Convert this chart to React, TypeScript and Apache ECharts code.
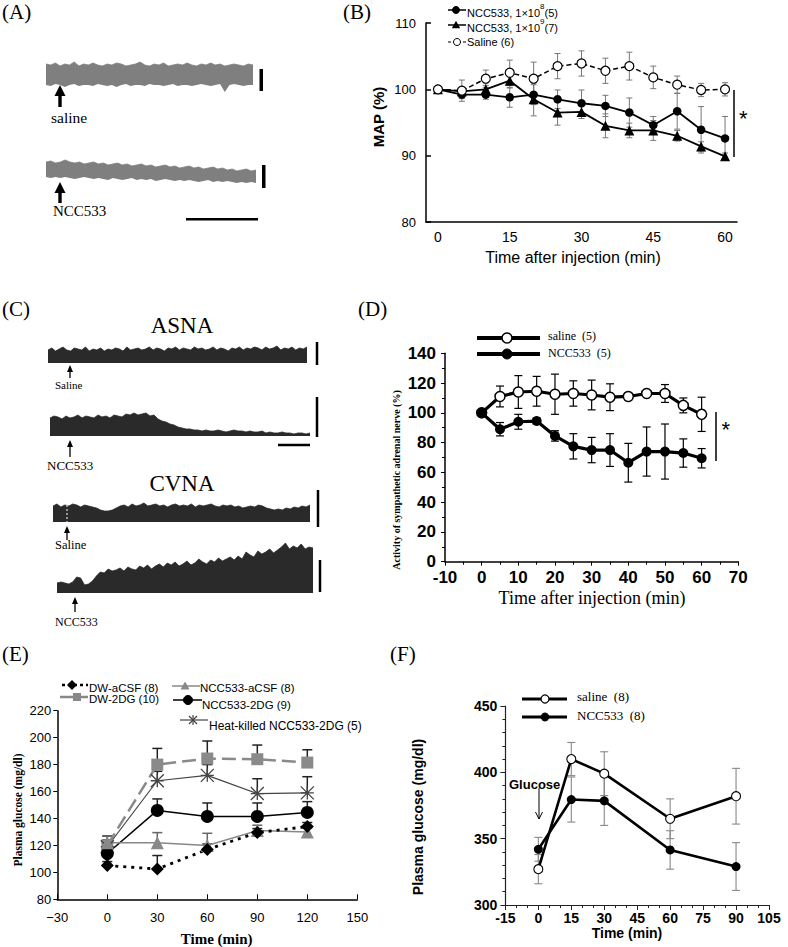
import React, { useEffect, useRef } from 'react';
import * as echarts from 'echarts';

const SANS = '"Liberation Sans", Arial, Helvetica, sans-serif';
const SERIF = '"Liberation Serif", "Times New Roman", Times, serif';

// ---------- Panel A : MAP recordings (arbitrary units, envelope of the band) ----------
const aSalineTop = [31,30,32,29,31,30,33,29,31,30, 32,30,29,31,30,32,31,29,30,31, 33,30,29,31,30,32,29,30,31,30, 32,30,29,31,30,32,30,31,29,30, 31,30,29,31,30];
const aSalineBottom = [10,9,11,10,8,10,11,9,10,10, 9,11,10,9,10,8,10,11,9,10, 10,9,11,10,10,9,10,11,9,10, 10,9,10,11,10,9,10,11,3,10, 11,10,9,10,10];
const aNccTop = [28,29,27,28,30,28,27,28,26,27, 28,26,27,25,26,27,25,26,24,25, 26,24,25,23,24,25,23,24,22,23, 24,22,23,21,22,23,21,22,20,21, 19,20,21,19,20];
const aNccBottom = [13,12,13,12,13,12,11,12,13,12, 11,12,11,10,12,11,10,11,12,10, 11,10,11,9,10,11,10,9,10,9, 10,9,8,9,10,8,9,8,9,8, 7,8,7,8,7];

// ---------- Panel C : nerve activity recordings (arbitrary units) ----------
const cAsnaSaline = [13,15,12,14,16,13,12,15,14,13, 16,12,14,13,15,12,14,13,15,14, 12,16,13,14,15,13,14,16,13,15, 14,12,15,14,16,13,15,14,13,16, 14,15,13,14,16,13,15,14,12,15, 14,16,13,15,14,16,15,13,16,14, 15,17,13,15,14,16,13,15,14,16];
const cAsnaNcc = [18,20,19,17,20,18,19,21,18,20, 19,18,21,19,20,18,21,20,19,22, 21,23,21,22,23,20,21,17,15,14, 12,11,9,8,7,7,6,6,5,6, 5,5,6,5,4,5,6,5,5,4, 5,4,4,5,3,4,3,3,4,3, 3,2,3,3,2,3];
const cCvnaSaline = [16,18,15,17,16,18,17,15,17,16, 15,14,12,11,11,12,14,16,17,15, 18,16,17,19,16,17,18,16,17,15, 17,18,16,17,16,18,15,17,16,17, 18,16,15,17,16,17,15,16,14,15, 16,15,17,16,14,13,12,13,12,14, 13,15,14,16,15,17];
const cCvnaNcc = [10,11,10,9,11,16,15,8,9,12, 17,21,20,24,22,23,25,22,26,24, 23,27,25,28,24,27,29,26,30,28, 31,27,29,32,28,30,34,31,29,33, 31,35,32,34,36,33,37,34,41,38, 36,42,39,41,44,40,43,46,50,44, 47,45,49,44,46,45];

// ---------- Panel B : MAP (%) ----------
const bTimes = ['0','5','10','15','20','25','30','35','40','45','50','55','60'];
const bN8 = [100, 99.2, 99.2, 98.8, 99.2, 98.5, 97.9, 97.5, 96.5, 94.6, 96.7, 93.9, 92.6];
const bN8Err = [0, 0.6, 0.7, 1.5, 1.5, 1.4, 2.0, 1.6, 2.2, 1.3, 2.7, 3.5, 3.3];
const bN9 = [100, 99.7, 100, 101.3, 98.5, 96.5, 96.6, 94.5, 93.8, 93.8, 93.0, 91.4, 89.9];
const bN9Err = [0, 0.5, 0.6, 1.1, 2.5, 1.9, 1.0, 1.8, 1.1, 1.5, 0.8, 0.7, 0.5];
const bSaline = [100, 99.8, 101.6, 102.5, 101.6, 103.5, 103.9, 102.8, 103.5, 101.8, 100.7, 99.9, 100.0];
const bSalineErr = [0, 1.6, 1.3, 1.9, 2.5, 1.9, 1.9, 1.9, 2.1, 1.7, 1.3, 1.0, 1.0];

// ---------- Panel D : adrenal sympathetic nerve activity (%) ----------
const dTimes = [0, 5, 10, 15, 20, 25, 30, 35, 40, 45, 50, 55, 60];
const dSaline = [100, 111, 114, 114.5, 112.5, 113, 112, 110.5, 111, 113, 113, 105, 99];
const dSalineErr = [0, 7, 11, 10, 13.5, 8.5, 10, 9, 2.5, 1, 6, 5, 11.5];
const dNcc = [100, 89, 94, 94.5, 84.5, 77.5, 75, 75, 66.5, 74, 74, 73, 69.5];
const dNccErr = [0, 4.5, 5, 2, 3.5, 8.5, 8.5, 11, 13, 16.5, 18.5, 9.5, 6.5];

// ---------- Panel E : plasma glucose (mg/dl) ----------
const eTimes = [0, 30, 60, 90, 120];
const eDwAcsf = [105, 102.5, 117, 129.5, 134];
const eDwAcsfErr = [3, 10, 4, 3, 3];
const eNccAcsf = [122, 122, 120, 131, 130];
const eNccAcsfErr = [5, 7.5, 9, 4, 3];
const eDw2dg = [120, 180, 184.5, 184, 181.5];
const eDw2dgErr = [7, 12, 13, 10.5, 9.5];
const eNcc2dg = [114, 146, 141.5, 141.5, 144.5];
const eNcc2dgErr = [6, 8.5, 10, 10, 8];
const eHeat = [119, 168, 172, 158.5, 159];
const eHeatErr = [5, 7, 8, 11, 12];

// ---------- Panel F : plasma glucose (mg/dl) ----------
const fTimes = [0, 15, 30, 60, 90];
const fSaline = [327, 410, 399, 365, 382];
const fSalineErr = [11, 12.5, 16.5, 15, 21];
const fNcc = [342, 379.5, 378.5, 341.5, 329];
const fNccErr = [9, 17, 18.5, 14.5, 18];

// ---------- helpers ----------
const errBar = (color: string, width: number, cap: number, both: boolean) => (params: any, api: any) => {
  const x = api.value(0);
  const a = api.coord([x, api.value(1)]);
  const b = api.coord([x, api.value(2)]);
  const style = { stroke: color, lineWidth: width, fill: 'none' };
  const children: any[] = [
    { type: 'line', shape: { x1: a[0], y1: a[1], x2: b[0], y2: b[1] }, style },
    { type: 'line', shape: { x1: b[0] - cap, y1: b[1], x2: b[0] + cap, y2: b[1] }, style },
  ];
  if (both) children.push({ type: 'line', shape: { x1: a[0] - cap, y1: a[1], x2: a[0] + cap, y2: a[1] }, style });
  return { type: 'group', children };
};

const symErr = (xs: any[], m: number[], e: number[]) => m.map((v, i) => [xs[i], v - e[i], v + e[i]]);
const upErr = (xs: any[], m: number[], e: number[]) => m.map((v, i) => [xs[i], v, v + e[i]]);
const pairs = (xs: number[], m: number[]) => m.map((v, i) => [xs[i], v]);

const L = (x1: number, y1: number, x2: number, y2: number, w = 1, c = '#000', dash?: number[]) => ({
  type: 'line', shape: { x1, y1, x2, y2 }, style: { stroke: c, lineWidth: w, lineDash: dash }, z: 10, silent: true,
});
const T = (x: number, y: number, text: string, size: number, family: string, extra: any = {}, rot = 0) => ({
  type: 'text', x, y, rotation: rot, silent: true, z: 10,
  style: { text, fontSize: size, fontFamily: family, fill: '#000', align: 'left', verticalAlign: 'middle', ...extra },
});
const C = (cx: number, cy: number, r: number, fill: string, stroke = '#000', lw = 1) => ({
  type: 'circle', shape: { cx, cy, r }, style: { fill, stroke, lineWidth: lw }, z: 11, silent: true,
});
const P = (points: number[][], fill: string) => ({ type: 'polygon', shape: { points }, style: { fill }, z: 11, silent: true });
const R = (x: number, y: number, width: number, height: number, fill = '#000') => ({
  type: 'rect', shape: { x, y, width, height }, style: { fill }, z: 10, silent: true,
});
const thinArrowUp = (x: number, tip: number, tail: number) => [
  L(x, tip + 5, x, tail, 1.3),
  P([[x, tip], [x - 3, tip + 7], [x + 3, tip + 7]], '#000'),
];

const traceLayouts = [
  { left: 46, top: 55, width: 207, height: 40, max: 40 },
  { left: 46, top: 150, width: 210, height: 40, max: 40 },
  { left: 48, top: 340, width: 259, height: 23, max: 23 },
  { left: 50, top: 406, width: 260, height: 30, max: 30 },
  { left: 53, top: 495, width: 257, height: 27, max: 27 },
  { left: 57, top: 540, width: 256, height: 53, max: 53 },
];
const traceLens = [aSalineTop.length, aNccTop.length, cAsnaSaline.length, cAsnaNcc.length, cCvnaSaline.length, cCvnaNcc.length];
const idx = (n: number) => Array.from({ length: n }, (_, i) => String(i));

function buildOption(): any {
  const grids: any[] = [
    { left: 426, top: 23, width: 311, height: 199 },
    { left: 445, top: 353.3, width: 293.3, height: 208.4 },
    { left: 57.3, top: 710.7, width: 300, height: 188.6 },
    { left: 505.4, top: 706, width: 263.6, height: 199 },
    ...traceLayouts.map((t) => ({ left: t.left, top: t.top, width: t.width, height: t.height })),
  ].map((g) => ({ ...g, outerBoundsMode: 'none', containLabel: false }));

  const black = { color: '#000', width: 1.5 };
  const xAxes: any[] = [
    {
      gridIndex: 0, type: 'category', data: bTimes, boundaryGap: true,
      axisLine: { onZero: false, lineStyle: black }, axisTick: { inside: true, length: 5, interval: 0, lineStyle: black },
      axisLabel: { interval: 2, color: '#000', fontSize: 14, fontFamily: SANS, margin: 8 }, splitLine: { show: false },
    },
    {
      gridIndex: 1, type: 'value', min: -10, max: 70, interval: 10,
      axisLine: { show: true, onZero: false, lineStyle: black }, axisTick: { show: true, length: 4, lineStyle: { color: '#000' } },
      minorTick: { show: true, splitNumber: 2, length: 3, lineStyle: { color: '#000' } },
      axisLabel: { color: '#000', fontSize: 17, fontWeight: 'bold', fontFamily: SANS, margin: 7 },
      splitLine: { show: false }, minorSplitLine: { show: false },
    },
    {
      gridIndex: 2, type: 'value', min: -30, max: 150, interval: 30,
      axisLine: { show: true, onZero: false, lineStyle: black }, axisTick: { show: true, inside: true, length: 5, lineStyle: { color: '#000' } },
      axisLabel: { color: '#000', fontSize: 13, fontFamily: SANS, margin: 12, formatter: (v: number) => (v < 0 ? '\u2212' + Math.abs(v) : String(v)) },
      splitLine: { show: false },
    },
    {
      gridIndex: 3, type: 'value', min: -15, max: 105, interval: 15,
      axisLine: { show: true, onZero: false, lineStyle: { color: '#222', width: 1.2 } }, axisTick: { show: true, length: 5, lineStyle: { color: '#222' } },
      minorTick: { show: true, splitNumber: 3, length: 3, lineStyle: { color: '#222' } },
      axisLabel: { color: '#000', fontSize: 14, fontWeight: 'bold', fontFamily: SANS, margin: 6 },
      splitLine: { show: false }, minorSplitLine: { show: false },
    },
    ...traceLayouts.map((t, k) => ({ gridIndex: 4 + k, type: 'category', data: idx(traceLens[k]), boundaryGap: false, show: false })),
  ];
  const yAxes: any[] = [
    {
      gridIndex: 0, type: 'value', min: 80, max: 110, interval: 10,
      axisLine: { show: true, onZero: false, lineStyle: black }, axisTick: { show: true, inside: true, length: 5, lineStyle: black },
      axisLabel: { color: '#000', fontSize: 13, fontFamily: SANS, margin: 10 }, splitLine: { show: false },
    },
    {
      gridIndex: 1, type: 'value', min: 0, max: 140, interval: 20,
      axisLine: { show: true, onZero: false, lineStyle: black }, axisTick: { show: true, length: 4, lineStyle: { color: '#000' } },
      minorTick: { show: true, splitNumber: 2, length: 3, lineStyle: { color: '#000' } },
      axisLabel: { color: '#000', fontSize: 17, fontWeight: 'bold', fontFamily: SANS, margin: 9 },
      splitLine: { show: false }, minorSplitLine: { show: false },
    },
    {
      gridIndex: 2, type: 'value', min: 80, max: 220, interval: 20,
      axisLine: { show: true, onZero: false, lineStyle: black }, axisTick: { show: true, length: 4, lineStyle: { color: '#000' } },
      axisLabel: { color: '#000', fontSize: 13, fontFamily: SANS, margin: 6 }, splitLine: { show: false },
    },
    {
      gridIndex: 3, type: 'value', min: 300, max: 450, interval: 50,
      axisLine: { show: true, onZero: false, lineStyle: { color: '#222', width: 1.2 } }, axisTick: { show: true, length: 5, lineStyle: { color: '#222' } },
      minorTick: { show: true, splitNumber: 5, length: 3, lineStyle: { color: '#222' } },
      axisLabel: { color: '#000', fontSize: 14, fontWeight: 'bold', fontFamily: SANS, margin: 8 },
      splitLine: { show: false }, minorSplitLine: { show: false },
    },
    ...traceLayouts.map((t, k) => ({ gridIndex: 4 + k, type: 'value', min: 0, max: t.max, show: false })),
  ];

  const custom = (ax: number, data: any[], render: any) => ({
    type: 'custom', xAxisIndex: ax, yAxisIndex: ax, data, renderItem: render, silent: true, z: 1,
    encode: { x: 0, y: [1, 2] },
  });
  const line = (ax: number, name: string, data: any[], symbol: string, size: number, item: any, lineStyle: any) => ({
    type: 'line', name, xAxisIndex: ax, yAxisIndex: ax, data, symbol, symbolSize: size,
    itemStyle: item, lineStyle, z: 3, silent: true,
  });

  const bIdx = bTimes.map((_, i) => i);
  const series: any[] = [
    // B
    custom(0, symErr(bIdx, bSaline, bSalineErr), errBar('#777', 1, 3, true)),
    custom(0, symErr(bIdx, bN8, bN8Err), errBar('#777', 1, 3, true)),
    custom(0, symErr(bIdx, bN9, bN9Err), errBar('#777', 1, 3, true)),
    line(0, 'NCC533, 1×10^8 (5)', bN8, 'circle', 8.5, { color: '#000' }, { color: '#000', width: 1.8 }),
    line(0, 'NCC533, 1×10^9 (7)', bN9, 'triangle', 10, { color: '#000' }, { color: '#000', width: 1.8 }),
    line(0, 'Saline (6)', bSaline, 'circle', 9, { color: '#fff', borderColor: '#000', borderWidth: 1.2 }, { color: '#000', width: 1.5, type: [5, 3] }),
    // D
    custom(1, symErr(dTimes, dSaline, dSalineErr), errBar('#000', 1.2, 4, true)),
    custom(1, symErr(dTimes, dNcc, dNccErr), errBar('#000', 1.2, 4, true)),
    line(1, 'saline (5)', pairs(dTimes, dSaline), 'circle', 10, { color: '#fff', borderColor: '#000', borderWidth: 1.5 }, { color: '#000', width: 3.2 }),
    line(1, 'NCC533 (5)', pairs(dTimes, dNcc), 'circle', 10, { color: '#000' }, { color: '#000', width: 3.2 }),
    // E
    custom(2, upErr(eTimes, eDw2dg, eDw2dgErr), errBar('#222', 1.5, 5, false)),
    custom(2, upErr(eTimes, eHeat, eHeatErr), errBar('#222', 1.5, 5, false)),
    custom(2, upErr(eTimes, eNcc2dg, eNcc2dgErr), errBar('#222', 1.5, 5, false)),
    custom(2, upErr(eTimes, eNccAcsf, eNccAcsfErr), errBar('#666', 1.5, 5, false)),
    custom(2, upErr(eTimes, eDwAcsf, eDwAcsfErr), errBar('#222', 1.5, 5, false)),
    line(2, 'DW-2DG (10)', pairs(eTimes, eDw2dg), 'rect', 12, { color: '#8a8a8a' }, { color: '#8a8a8a', width: 2.5, type: [14, 6] }),
    line(2, 'Heat-killed NCC533-2DG (5)', pairs(eTimes, eHeat), 'path://M0 0L10 10M10 0L0 10M0 5L10 5M5 0L5 10', 13,
      { color: '#444', borderColor: '#444', borderWidth: 1.3 }, { color: '#444', width: 1.2 }),
    line(2, 'NCC533-2DG (9)', pairs(eTimes, eNcc2dg), 'circle', 13, { color: '#000' }, { color: '#000', width: 1.5 }),
    line(2, 'NCC533-aCSF (8)', pairs(eTimes, eNccAcsf), 'triangle', 13, { color: '#888' }, { color: '#888', width: 1.5 }),
    line(2, 'DW-aCSF (8)', pairs(eTimes, eDwAcsf), 'diamond', 13, { color: '#000' }, { color: '#000', width: 2.8, type: [3, 5] }),
    // F
    custom(3, symErr(fTimes, fSaline, fSalineErr), errBar('#888', 1.1, 4, true)),
    custom(3, symErr(fTimes, fNcc, fNccErr), errBar('#888', 1.1, 4, true)),
    line(3, 'saline (8)', pairs(fTimes, fSaline), 'circle', 9, { color: '#fff', borderColor: '#000', borderWidth: 1.1 }, { color: '#000', width: 2.6 }),
    line(3, 'NCC533 (8)', pairs(fTimes, fNcc), 'circle', 9, { color: '#000' }, { color: '#000', width: 2.6 }),
  ];

  // A traces: band between bottom and top envelopes (stacked)
  const bands = [
    { k: 0, top: aSalineTop, bottom: aSalineBottom },
    { k: 1, top: aNccTop, bottom: aNccBottom },
  ];
  bands.forEach(({ k, top, bottom }) => {
    const ax = 4 + k;
    series.push({
      type: 'line', xAxisIndex: ax, yAxisIndex: ax, data: bottom, stack: 'band' + k, symbol: 'none',
      lineStyle: { width: 0, opacity: 0 }, silent: true, z: 2,
    });
    series.push({
      type: 'line', xAxisIndex: ax, yAxisIndex: ax, data: top.map((v, i) => v - bottom[i]), stack: 'band' + k, symbol: 'none',
      lineStyle: { width: 0.8, color: '#7f7f7f' }, areaStyle: { color: '#7f7f7f', opacity: 1 }, silent: true, z: 2,
    });
  });
  // C traces: filled from baseline
  [cAsnaSaline, cAsnaNcc, cCvnaSaline, cCvnaNcc].forEach((d, j) => {
    const ax = 6 + j;
    series.push({
      type: 'line', xAxisIndex: ax, yAxisIndex: ax, data: d, symbol: 'none',
      lineStyle: { width: 0.8, color: '#2a2a2a' }, areaStyle: { color: '#2a2a2a', opacity: 1, origin: 'start' }, silent: true, z: 2,
    });
  });

  const tri = (x: number, y: number, s: number, fill: string) => P([[x, y - s], [x - s, y + s * 0.8], [x + s, y + s * 0.8]], fill);
  const bRich = (t: string, sup: string, n: string) => ({
    text: `{a|${t}}{s|${sup}}{a|${n}}`,
    rich: {
      a: { fontSize: 11, fontFamily: SANS, fill: '#000', lineHeight: 16, verticalAlign: 'bottom' },
      s: { fontSize: 8, fontFamily: SANS, fill: '#000', lineHeight: 6, verticalAlign: 'top' },
    },
  });
  const eTxt = { lineHeight: 10 };

  const graphic: any[] = [
    // panel labels
    T(2, 12, '(A)', 21, SERIF), T(343, 12, '(B)', 21, SERIF),
    T(2, 309, '(C)', 21, SERIF), T(358, 309, '(D)', 21, SERIF),
    T(2, 654, '(E)', 21, SERIF), T(390, 654, '(F)', 21, SERIF),

    // panel A annotations
    P([[60, 85], [54.5, 96], [65.5, 96]], '#000'), R(58.3, 95, 3.4, 12),
    P([[60, 182], [54.5, 193], [65.5, 193]], '#000'), R(58.3, 192, 3.4, 11),
    T(51, 117, 'saline', 15.5, SERIF), T(53, 211, 'NCC533', 15, SERIF),
    R(259.5, 69, 3.5, 22), R(262, 165, 3.5, 23), R(186, 218, 72, 2.5),

    // panel C annotations
    T(182, 325, 'ASNA', 23, SERIF, { align: 'center' }),
    T(182, 483, 'CVNA', 23, SERIF, { align: 'center' }),
    ...thinArrowUp(70, 365, 378), ...thinArrowUp(70, 440, 457), ...thinArrowUp(67, 526, 540), ...thinArrowUp(75, 597, 612),
    L(67, 505, 67, 522, 1, '#fff', [2, 2]),
    T(55, 385, 'Saline', 11, SERIF), T(47, 465, 'NCC533', 13, SERIF),
    T(55, 545, 'Saline', 12.5, SERIF), T(55, 622, 'NCC533', 12, SERIF),
    L(317, 342, 317, 365, 2.5), L(317, 397, 317, 437, 2.5), L(318, 490, 318, 527, 2.5), L(320, 560, 320, 592, 2.5),
    L(278, 445, 310, 445, 2.5),

    // panel B legend + titles
    L(448, 10, 466, 10, 1.5), C(456, 10, 3.5, '#000'),
    { type: 'text', x: 467, y: 10, z: 10, silent: true, style: { ...bRich('NCC533, 1×10', '8', '(5)'), verticalAlign: 'middle' } },
    L(448, 25, 466, 25, 1.5), tri(456, 25, 4.2, '#000'),
    { type: 'text', x: 467, y: 25, z: 10, silent: true, style: { ...bRich('NCC533, 1×10', '9', '(7)'), verticalAlign: 'middle' } },
    L(448, 42, 466, 42, 1.2, '#000', [3, 2]), C(457, 42, 3.5, '#fff', '#000', 1),
    T(467, 42, 'Saline (6)', 11, SANS),
    T(573, 257, 'Time after injection (min)', 16, SANS, { align: 'center' }),
    T(378.5, 117, 'MAP (%)', 15, SANS, { align: 'center', fontWeight: 'bold' }, Math.PI / 2),
    L(734, 90, 734, 157, 1.5), T(739, 118, '*', 22, SANS),

    // panel D legend + titles
    L(477, 338, 540, 338, 4), C(507, 338, 5, '#fff', '#000', 1.5), T(548, 336, 'saline  (5)', 12, SERIF),
    L(477, 354, 540, 354, 4), C(507, 354, 5, '#000'), T(548, 353, 'NCC533  (5)', 12, SERIF),
    T(592, 598, 'Time after injection (min)', 18, SERIF, { align: 'center' }),
    T(396, 480, 'Activity of sympathetic adrenal nerve (%)', 10, SERIF, { align: 'center', fontWeight: 'bold' }, Math.PI / 2),
    L(716, 412, 716, 461, 1.5), T(721.5, 429, '*', 22, SANS),

    // panel E legend + titles
    L(62, 685, 88, 685, 2.5, '#000', [3, 3]), P([[72, 680], [77, 685], [72, 690], [67, 685]], '#000'),
    T(89, 688, 'DW-aCSF (8)', 11.5, SANS, eTxt),
    L(172, 686, 200, 686, 1.5, '#888'), tri(185, 686, 4.5, '#888'),
    T(200, 688, 'NCC533-aCSF (8)', 11.5, SANS, eTxt),
    L(60, 697, 88, 697, 2.5, '#888'), R(73, 693, 8, 8, '#888'),
    T(89, 698.5, 'DW-2DG (10)', 11.5, SANS, eTxt),
    L(173, 700, 202, 700, 1.5, '#000'), C(188, 700, 4.5, '#000'),
    T(202, 705, 'NCC533-2DG (9)', 11.5, SANS, eTxt),
    L(180, 720, 208, 720, 1.2, '#444'),
    L(189, 716, 197, 724, 1.2, '#444'), L(197, 716, 189, 724, 1.2, '#444'), L(193, 715, 193, 725, 1.2, '#444'),
    T(209, 726, 'Heat-killed NCC533-2DG (5)', 12, SANS, eTxt),
    T(216.7, 939, 'Time (min)', 15, SERIF, { align: 'center', fontWeight: 'bold' }),
    T(17.5, 810, 'Plasma glucose (mg/dl)', 11.5, SERIF, { align: 'center', fontWeight: 'bold' }, Math.PI / 2),

    // panel F legend + titles
    L(522, 699, 567, 699, 3), C(545, 699, 4, '#fff', '#000', 1.2), T(577, 696, 'saline  (8)', 13, SERIF),
    L(522, 717, 567, 717, 3), C(545, 717, 4, '#000'), T(577, 715, 'NCC533  (8)', 13, SERIF),
    T(627, 933, 'Time (min)', 14, SANS, { align: 'center', fontWeight: 'bold' }),
    T(418, 817, 'Plasma glucose (mg/dl)', 14, SANS, { align: 'center', fontWeight: 'bold' }, Math.PI / 2),
    T(509, 784, 'Glucose', 13, SANS, { fontWeight: 'bold' }),
    L(539, 788, 539, 819, 1),
    { type: 'polyline', shape: { points: [[535.5, 812], [539, 819], [542.5, 812]] }, style: { stroke: '#000', lineWidth: 1, fill: 'none' }, z: 10, silent: true },
  ];

  return {
    animation: false,
    backgroundColor: '#fff',
    grid: grids,
    xAxis: xAxes,
    yAxis: yAxes,
    series,
    graphic: { elements: graphic },
  };
}

export default function App() {
  const ref = useRef<HTMLDivElement>(null);
  useEffect(() => {
    if (!ref.current) return;
    const chart = echarts.init(ref.current, undefined, { renderer: 'svg', width: 788, height: 947 });
    chart.setOption(buildOption());
    return () => chart.dispose();
  }, []);
  return (
    <div
      ref={ref}
      style={{ position: 'fixed', left: 0, top: 0, width: 788, height: 947, background: '#fff' }}
    />
  );
}
